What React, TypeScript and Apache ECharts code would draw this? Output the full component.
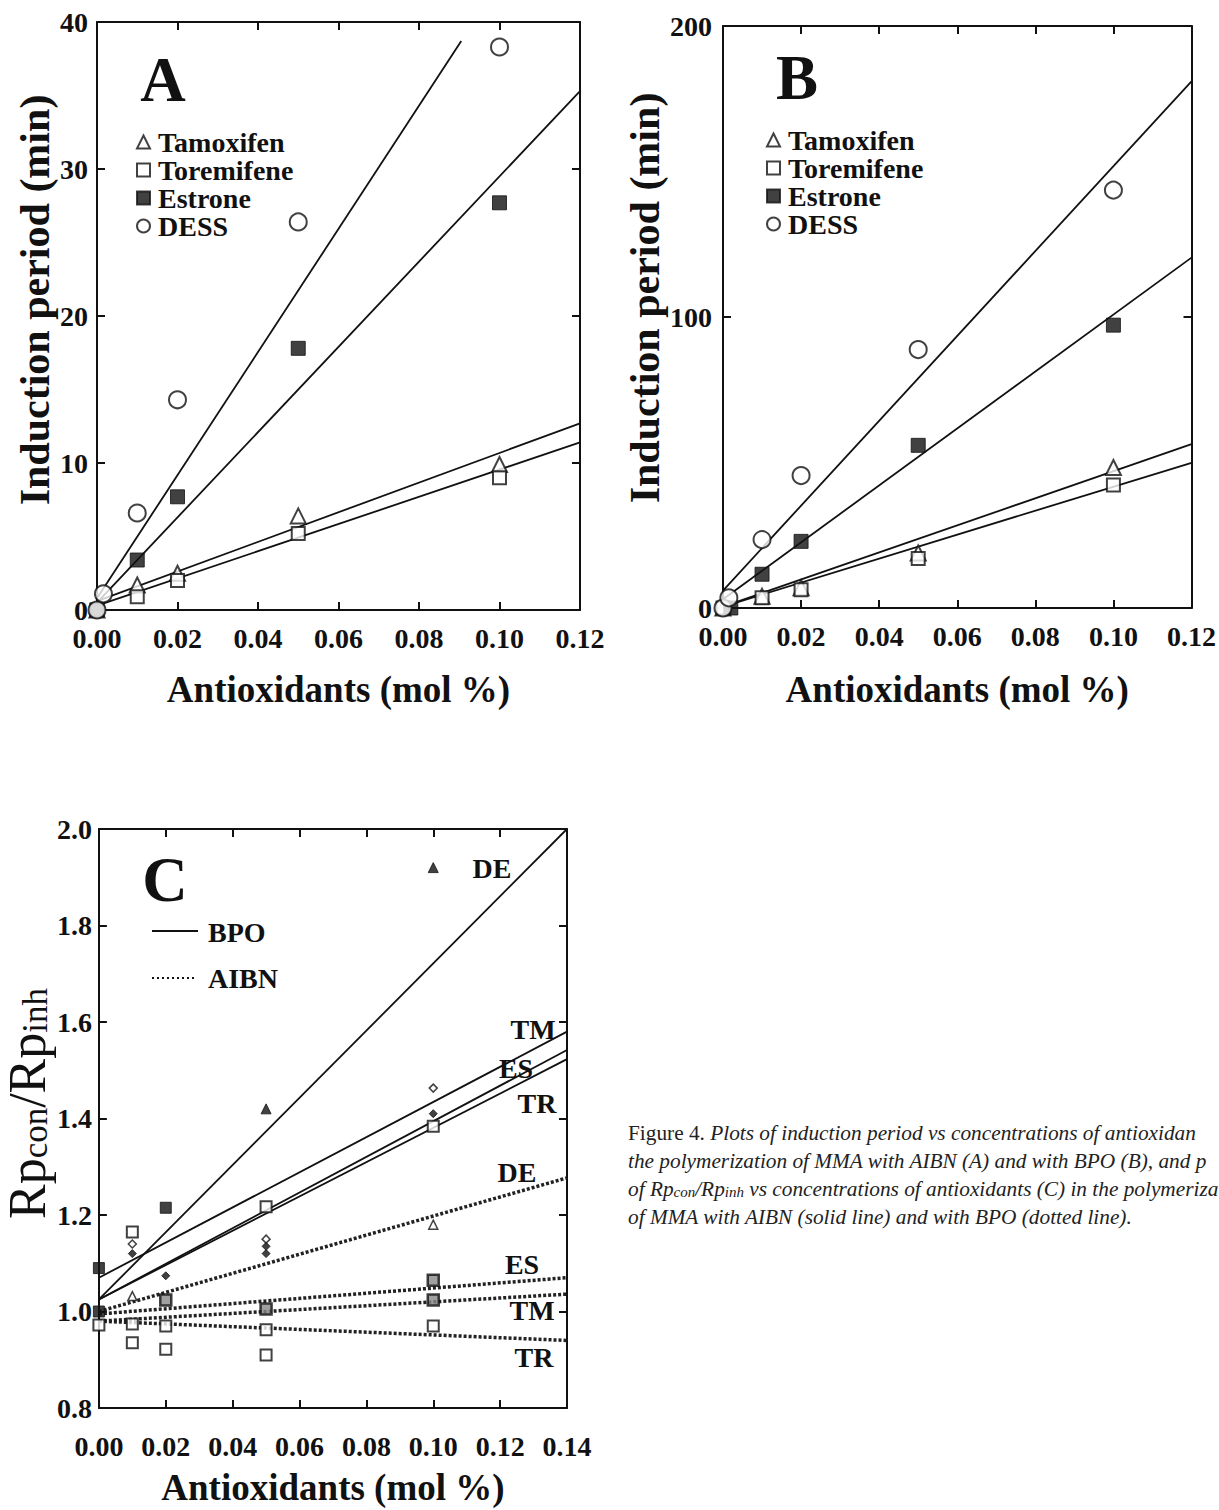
import React, { useEffect, useRef } from "react";
import * as echarts from "echarts";

const FONT = "'Liberation Serif', 'Times New Roman', serif";
const INK = "#111";

// ---------- Panel A (AIBN) : induction period (min) ----------
const A_TAM = [[0, 0], [0.01, 1.7], [0.02, 2.5], [0.05, 6.4], [0.1, 9.9]];
const A_TOR = [[0, 0], [0.01, 0.9], [0.02, 2.0], [0.05, 5.2], [0.1, 9.0]];
const A_EST = [[0, 0], [0.01, 3.4], [0.02, 7.7], [0.05, 17.8], [0.1, 27.7]];
const A_DESS = [[0, 0], [0.0016, 1.1], [0.01, 6.6], [0.02, 14.3], [0.05, 26.4], [0.1, 38.3]];
const A_FIT_TAM = [[0, 0.6], [0.12, 12.7]];
const A_FIT_TOR = [[0, 0.3], [0.12, 11.4]];
const A_FIT_EST = [[0, 0.5], [0.12, 35.3]];
const A_FIT_DESS = [[0, 0.8], [0.0905, 38.7]];

// ---------- Panel B (BPO) ----------
const B_TAM = [[0, 0], [0.01, 4.0], [0.02, 7.0], [0.05, 18.9], [0.1, 48.3]];
const B_TOR = [[0, 0], [0.01, 3.5], [0.02, 6.3], [0.05, 17.0], [0.1, 42.3]];
const B_EST = [[0.002, 0], [0.01, 11.6], [0.02, 22.9], [0.05, 55.9], [0.1, 97.2]];
const B_DESS = [[0, 0], [0.0015, 3.5], [0.01, 23.5], [0.02, 45.5], [0.05, 88.8], [0.1, 143.6]];
const B_FIT_TAM = [[0, 0.5], [0.12, 56.3]];
const B_FIT_TOR = [[0, 0.5], [0.12, 49.9]];
const B_FIT_EST = [[0, 3], [0.12, 120.4]];
const B_FIT_DESS = [[0, 6], [0.12, 181]];

// ---------- Panel C : Rpcon/Rpinh ----------
const C_BPO_DE_PTS = [[0.05, 1.42], [0.1, 1.92]];
const C_BPO_TM_PTS = [[0.01, 1.14], [0.05, 1.15], [0.1, 1.463]];
const C_BPO_ES_PTS = [[0.01, 1.12], [0.05, 1.12], [0.05, 1.135], [0.02, 1.074], [0.1, 1.41]];
const C_BPO_TR_PTS = [[0.01, 1.165], [0.05, 1.217], [0.1, 1.384]];
const C_FILLED_SQ = [[0, 1.09], [0, 1.0], [0.02, 1.215]];
const C_AIBN_DE_PTS = [[0.01, 1.032], [0.1, 1.18]];
const C_AIBN_ES_PTS = [[0.02, 1.024], [0.05, 1.005], [0.1, 1.065], [0.1, 1.024]];
const C_AIBN_TM_PTS = [[0, 0.972], [0.01, 0.974], [0.02, 0.97], [0.05, 0.962], [0.1, 0.97]];
const C_AIBN_TR_PTS = [[0.01, 0.935], [0.02, 0.922], [0.05, 0.91]];
const C_BPO_DE = [[0, 1.025], [0.14, 2.0]];
const C_BPO_TM = [[0, 1.07], [0.14, 1.58]];
const C_BPO_ES = [[0, 1.025], [0.14, 1.542]];
const C_BPO_TR = [[0, 1.025], [0.14, 1.523]];
const C_AIBN_DE = [[0, 1.0], [0.14, 1.277]];
const C_AIBN_ES = [[0, 0.995], [0.14, 1.07]];
const C_AIBN_TM = [[0, 0.98], [0.14, 1.036]];
const C_AIBN_TR = [[0, 0.98], [0.14, 0.94]];

const LEGEND_NAMES = ["Tamoxifen", "Toremifene", "Estrone", "DESS"];

const openStyle = { color: "#fff", borderColor: INK, borderWidth: 2 };
const filledStyle = { color: INK, borderColor: INK, borderWidth: 1 };

function scatter(name: string, data: number[][], axis: number, symbol: string, size: number, filled: boolean, extra: any = {}) {
  return {
    type: "scatter",
    name,
    data,
    xAxisIndex: axis,
    yAxisIndex: axis,
    symbol,
    symbolSize: size,
    itemStyle: filled ? filledStyle : openStyle,
    z: 5,
    silent: true,
    ...extra,
  };
}

function fit(name: string, data: number[][], axis: number, dotted = false) {
  return {
    type: "line",
    name,
    data,
    xAxisIndex: axis,
    yAxisIndex: axis,
    symbol: "none",
    lineStyle: dotted
      ? { color: "#222", width: 3.5, type: [3, 2] }
      : { color: INK, width: 1.8 },
    z: 3,
    silent: true,
  };
}

const TICK_FONT = 28;

function xAxes(grid: number, max: number, margin: number, gap: number) {
  const common = {
    type: "value",
    gridIndex: grid,
    min: 0,
    max,
    interval: 0.02,
    splitLine: { show: false },
    axisLine: { show: true, onZero: false, lineStyle: { color: INK, width: 2 } },
    axisTick: { show: true, inside: true, length: 8, lineStyle: { color: INK, width: 2 } },
  };
  return [
    {
      ...common,
      position: "bottom",
      axisLabel: {
        show: true,
        margin,
        color: INK,
        fontFamily: FONT,
        fontWeight: "bold",
        fontSize: TICK_FONT,
        showMinLabel: true,
        showMaxLabel: true,
        formatter: (v: number) => v.toFixed(2),
      },
      name: "Antioxidants (mol %)",
      nameLocation: "middle",
      nameGap: gap,
      nameTextStyle: { color: INK, fontFamily: FONT, fontWeight: "bold", fontSize: 37 },
    },
    { ...common, position: "top", axisLabel: { show: false } },
  ];
}

function yAxes(grid: number, min: number, max: number, interval: number, margin: number, digits: number, name: any, gap: number, nameStyle: any) {
  const common = {
    type: "value",
    gridIndex: grid,
    min,
    max,
    interval,
    splitLine: { show: false },
    axisLine: { show: true, onZero: false, lineStyle: { color: INK, width: 2 } },
    axisTick: { show: true, inside: true, length: 8, lineStyle: { color: INK, width: 2 } },
  };
  return [
    {
      ...common,
      position: "left",
      axisLabel: {
        show: true,
        margin,
        color: INK,
        fontFamily: FONT,
        fontWeight: "bold",
        fontSize: TICK_FONT,
        showMinLabel: true,
        showMaxLabel: true,
        formatter: (v: number) => v.toFixed(digits),
      },
      name,
      nameLocation: "middle",
      nameGap: gap,
      nameRotate: 90,
      nameTextStyle: nameStyle,
    },
    { ...common, position: "right", axisLabel: { show: false } },
  ];
}

const legendText = { color: INK, fontFamily: FONT, fontWeight: "bold", fontSize: 28, lineHeight: 28, padding: [0, 0, 0, 3] };

function bigLetter(text: string, x: number, y: number) {
  return {
    type: "text",
    x,
    y,
    style: { text, fill: INK, font: `bold 63px ${FONT}`, align: "center", verticalAlign: "middle" },
  };
}

function cLabel(text: string, x: number, y: number) {
  return {
    type: "text",
    x,
    y,
    z: 10,
    style: { text, fill: INK, font: `bold 28px ${FONT}`, align: "center", verticalAlign: "middle" },
  };
}

const CAP_SIZE = 21.3;
const CAP_RICH = {
  n: { fontFamily: FONT, fontSize: CAP_SIZE, color: "#222" },
  i: { fontFamily: FONT, fontSize: CAP_SIZE, fontStyle: "italic", color: "#222" },
  s: { fontFamily: FONT, fontSize: 15, fontStyle: "italic", color: "#222", lineHeight: 6, verticalAlign: "bottom" },
};

function capLine(text: string, y: number) {
  return {
    type: "text",
    x: 628,
    y,
    style: { text, rich: CAP_RICH, align: "left", verticalAlign: "middle", fill: "#222" },
  };
}

export default function App() {
  const ref = useRef<HTMLDivElement>(null);
  useEffect(() => {
    if (!ref.current) return;
    const chart = echarts.init(ref.current, undefined, { renderer: "svg" });
    const yTitle = { color: INK, fontFamily: FONT, fontWeight: "bold", fontSize: 42 };
    const option: any = {
      animation: false,
      backgroundColor: "#fff",
      grid: [
        { left: 97, top: 22, width: 483, height: 588 },
        { left: 723, top: 26, width: 469, height: 582 },
        { left: 97, top: 829, width: 470, height: 579 },
      ],
      xAxis: [...xAxes(0, 0.12, 14, 61), ...xAxes(1, 0.12, 14, 63), ...xAxes(2, 0.14, 24, 61)],
      yAxis: [
        ...yAxes(0, 0, 40, 10, 9, 0, "Induction period (min)", 38, { ...yTitle, padding: [0, 0, 0, 32] }),
        ...yAxes(1, 0, 200, 100, 11, 0, "Induction period (min)", 46, { ...yTitle, padding: [0, 0, 0, 38] }),
        ...yAxes(2, 0.8, 2.0, 0.2, 7, 1, "{r|Rp}{s|con}{r|/Rp}{s|inh}", 33, {
          color: INK,
          padding: [0, 0, 0, 30],
          rich: {
            r: { fontFamily: FONT, fontSize: 52, color: INK },
            s: { fontFamily: FONT, fontSize: 35, color: INK, lineHeight: 10, verticalAlign: "bottom" },
          },
        }),
      ],
      legend: [
        {
          left: 136,
          top: 128,
          padding: 0,
          orient: "vertical",
          itemWidth: 13,
          itemHeight: 13,
          itemGap: 0,
          selectedMode: false,
          data: LEGEND_NAMES,
          textStyle: legendText,
        },
        {
          left: 766,
          top: 126,
          padding: 0,
          orient: "vertical",
          itemWidth: 13,
          itemHeight: 13,
          itemGap: 0,
          selectedMode: false,
          data: LEGEND_NAMES,
          textStyle: legendText,
        },
      ],
      series: [
        // A
        fit("fitA1", A_FIT_TAM, 0),
        fit("fitA2", A_FIT_TOR, 0),
        fit("fitA3", A_FIT_EST, 0),
        fit("fitA4", A_FIT_DESS, 0),
        scatter("Tamoxifen", A_TAM, 0, "triangle", 15, false),
        scatter("Toremifene", A_TOR, 0, "rect", 13, false),
        scatter("Estrone", A_EST, 0, "rect", 14, true),
        scatter("DESS", A_DESS, 0, "circle", 17, false),
        // B
        fit("fitB1", B_FIT_TAM, 2),
        fit("fitB2", B_FIT_TOR, 2),
        fit("fitB3", B_FIT_EST, 2),
        fit("fitB4", B_FIT_DESS, 2),
        scatter("Tamoxifen", B_TAM, 2, "triangle", 15, false),
        scatter("Toremifene", B_TOR, 2, "rect", 13, false),
        scatter("Estrone", B_EST, 2, "rect", 14, true),
        scatter("DESS", B_DESS, 2, "circle", 17, false),
        // C lines
        fit("BPO-DE", C_BPO_DE, 4),
        fit("BPO-TM", C_BPO_TM, 4),
        fit("BPO-ES", C_BPO_ES, 4),
        fit("BPO-TR", C_BPO_TR, 4),
        fit("AIBN-DE", C_AIBN_DE, 4, true),
        fit("AIBN-ES", C_AIBN_ES, 4, true),
        fit("AIBN-TM", C_AIBN_TM, 4, true),
        fit("AIBN-TR", C_AIBN_TR, 4, true),
        // C points
        scatter("cBpoDE", C_BPO_DE_PTS, 4, "triangle", 10, true),
        scatter("cBpoTM", C_BPO_TM_PTS, 4, "diamond", 8, false, { itemStyle: { color: "#fff", borderColor: INK, borderWidth: 1.5 } }),
        scatter("cBpoES", C_BPO_ES_PTS, 4, "diamond", 8, true),
        scatter("cBpoTR", C_BPO_TR_PTS, 4, "rect", 11, false),
        scatter("cFilledSq", C_FILLED_SQ, 4, "rect", 11, true),
        scatter("cAibnDE", C_AIBN_DE_PTS, 4, "triangle", 9, false, { itemStyle: { color: "#fff", borderColor: INK, borderWidth: 1.5 } }),
        scatter("cAibnES", C_AIBN_ES_PTS, 4, "rect", 11, false, { itemStyle: { color: "#888", borderColor: INK, borderWidth: 2.5 } }),
        scatter("cAibnTM", C_AIBN_TM_PTS, 4, "rect", 11, false),
        scatter("cAibnTR", C_AIBN_TR_PTS, 4, "rect", 11, false),
      ],
      graphic: [
        bigLetter("A", 163, 80),
        bigLetter("B", 797, 78),
        bigLetter("C", 165, 880),
        // C legend
        { type: "line", shape: { x1: 152, y1: 931, x2: 198, y2: 931 }, style: { stroke: INK, lineWidth: 2 } },
        { type: "text", x: 208, y: 932, style: { text: "BPO", fill: INK, font: `bold 28px ${FONT}`, align: "left", verticalAlign: "middle" } },
        { type: "line", shape: { x1: 152, y1: 978, x2: 196, y2: 978 }, style: { stroke: INK, lineWidth: 2, lineDash: [2, 3] } },
        { type: "text", x: 208, y: 978, style: { text: "AIBN", fill: INK, font: `bold 28px ${FONT}`, align: "left", verticalAlign: "middle" } },
        // C line labels
        cLabel("DE", 492, 868),
        cLabel("TM", 533, 1029),
        cLabel("ES", 516, 1068),
        cLabel("TR", 537, 1103),
        cLabel("DE", 517, 1172),
        cLabel("ES", 522, 1264),
        cLabel("TM", 532, 1310),
        cLabel("TR", 534, 1357),
        // caption
        capLine("{n|Figure 4. }{i|Plots of induction period vs concentrations of antioxidan}", 1133),
        capLine("{i|the polymerization of MMA with AIBN (A) and with BPO (B), and p}", 1161),
        capLine("{i|of Rp}{s|con}{i|/Rp}{s|inh}{i| vs concentrations of antioxidants (C) in the polymeriza}", 1189),
        capLine("{i|of MMA with AIBN (solid line) and with BPO (dotted line).}", 1217),
      ],
    };
    chart.setOption(option);
    return () => chart.dispose();
  }, []);
  return (
    <div
      ref={ref}
      style={{ position: "absolute", left: 0, top: 0, width: 1219, height: 1510, overflow: "hidden", background: "#fff" }}
    />
  );
}
